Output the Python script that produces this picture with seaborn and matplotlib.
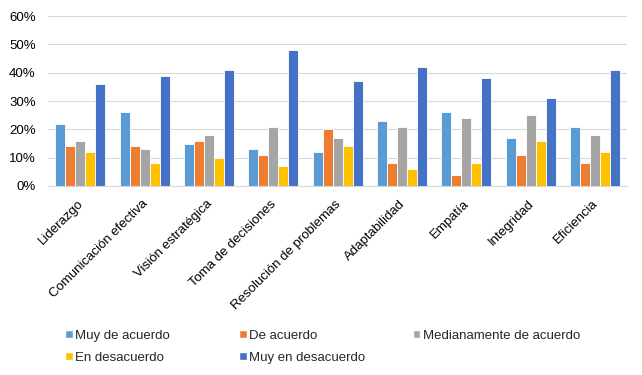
import pandas as pd
import matplotlib
matplotlib.use("Agg")
import matplotlib.pyplot as plt
import matplotlib.transforms as mtransforms
import seaborn as sns
from matplotlib.patches import Patch
from matplotlib.ticker import PercentFormatter

categories = ["Liderazgo", "Comunicación efectiva", "Visión estratégica",
              "Toma de decisiones", "Resolución de problemas", "Adaptabilidad",
              "Empatía", "Integridad", "Eficiencia"]
series = ["Muy de acuerdo", "De acuerdo", "Medianamente de acuerdo",
          "En desacuerdo", "Muy en desacuerdo"]
muy_de_acuerdo = [22, 26, 15, 13, 12, 23, 26, 17, 21]
de_acuerdo = [14, 14, 16, 11, 20, 8, 4, 11, 8]
medianamente = [16, 13, 18, 21, 17, 21, 24, 25, 18]
en_desacuerdo = [12, 8, 10, 7, 14, 6, 8, 16, 12]
muy_en_desacuerdo = [36, 39, 41, 48, 37, 42, 38, 31, 41]
y_ticks = [0, 10, 20, 30, 40, 50, 60]
colors = ["#5B9BD5", "#ED7D31", "#A5A5A5", "#FFC000", "#4472C4"]

values = [muy_de_acuerdo, de_acuerdo, medianamente, en_desacuerdo, muy_en_desacuerdo]
rows = []
for s, vals in zip(series, values):
    for c, v in zip(categories, vals):
        rows.append({"cat": c, "serie": s, "val": v})
df = pd.DataFrame(rows)

sns.set_style("white")
plt.rcParams["font.family"] = ["Liberation Sans", "DejaVu Sans"]

fig = plt.figure(figsize=(6.42, 3.75), dpi=100)
ax = fig.add_axes([0.075, 0.504, 0.902, 0.453])

sns.barplot(data=df, x="cat", y="val", hue="serie", palette=colors, saturation=1,
            width=0.78, edgecolor="white", linewidth=0.6, ax=ax, legend=False)

ax.set_ylim(0, 60)
ax.set_yticks(y_ticks)
ax.yaxis.set_major_formatter(PercentFormatter(decimals=0))
ax.set_xlim(-0.5, len(categories) - 0.5)
ax.grid(axis="y", color="#D9D9D9", linewidth=0.8)
ax.set_axisbelow(True)
for sp in ["top", "right", "left"]:
    ax.spines[sp].set_visible(False)
ax.spines["bottom"].set_color("#D9D9D9")
ax.tick_params(axis="both", length=0, labelsize=9.5, colors="black")
ax.tick_params(axis="y", pad=9)
ax.set_xlabel("")
ax.set_ylabel("")
ax.set_xticks(range(len(categories)))
ax.set_xticklabels(categories, rotation=45, ha="right", va="top",
                   rotation_mode="anchor", fontsize=9.5)
offset = mtransforms.ScaledTranslation(-0.03, -0.07, fig.dpi_scale_trans)
for lab in ax.get_xticklabels():
    lab.set_transform(lab.get_transform() + offset)

# legend laid out in 3 fixed-width columns like Excel
order = [[0, 3], [1, 4], [2]]
col_x = [0.102, 0.373, 0.643]
for xs, idx in zip(col_x, order):
    handles = [Patch(facecolor=colors[i], label=series[i]) for i in idx]
    fig.legend(handles=handles, loc="upper left", bbox_to_anchor=(xs, 0.121),
               frameon=False, fontsize=9.5, handlelength=0.55, handleheight=0.55,
               handletextpad=0.2, labelspacing=0.75, borderpad=0, borderaxespad=0)

fig.savefig("out.png", dpi=100)
